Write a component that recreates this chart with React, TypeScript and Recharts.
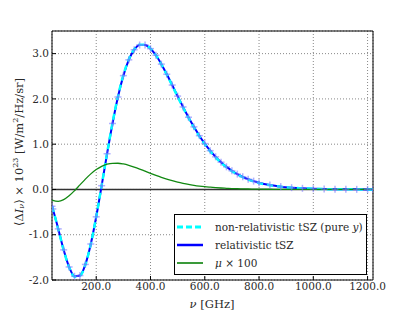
import React from "react";
import {
  ComposedChart,
  Line,
  Scatter,
  XAxis,
  YAxis,
  CartesianGrid,
  ReferenceLine,
  ReferenceArea,
  Legend,
} from "recharts";

// frequencies in GHz
const nu = [
  37, 40, 60, 80, 100, 120, 140, 160, 180, 200, 220, 240, 260, 280, 300, 320,
  340, 360, 380, 400, 420, 440, 460, 480, 500, 520, 540, 560, 580, 600, 620,
  640, 660, 680, 700, 720, 740, 760, 780, 800, 840, 880, 920, 960, 1000, 1040,
  1080, 1120, 1160, 1200, 1220,
];

// non-relativistic tSZ (pure y)
const nonRel = [
  -0.374, -0.432, -0.875, -1.34, -1.719, -1.926, -1.909, -1.661, -1.206,
  -0.601, 0.09, 0.799, 1.469, 2.055, 2.527, 2.875, 3.095, 3.198, 3.197, 3.112,
  2.963, 2.764, 2.538, 2.296, 2.05, 1.809, 1.58, 1.367, 1.172, 0.997, 0.842,
  0.707, 0.589, 0.488, 0.403, 0.33, 0.27, 0.219, 0.177, 0.143, 0.092, 0.058,
  0.037, 0.023, 0.014, 0.008, 0.005, 0.003, 0.002, 0.001, 0.001,
];

// relativistic tSZ
const rel = [
  -0.372, -0.43, -0.871, -1.334, -1.712, -1.918, -1.902, -1.656, -1.205,
  -0.604, 0.083, 0.789, 1.457, 2.042, 2.514, 2.863, 3.085, 3.19, 3.192, 3.11,
  2.964, 2.768, 2.545, 2.306, 2.062, 1.823, 1.595, 1.383, 1.188, 1.013, 0.857,
  0.721, 0.602, 0.5, 0.414, 0.34, 0.279, 0.227, 0.184, 0.149, 0.097, 0.062,
  0.04, 0.025, 0.016, 0.01, 0.006, 0.004, 0.002, 0.001, 0.001,
];

// mu distortion x 100
const mu = [
  -0.233, -0.242, -0.263, -0.225, -0.141, -0.027, 0.101, 0.228, 0.344, 0.439,
  0.511, 0.557, 0.578, 0.579, 0.563, 0.534, 0.495, 0.451, 0.404, 0.357, 0.312,
  0.269, 0.229, 0.194, 0.163, 0.136, 0.112, 0.092, 0.075, 0.061, 0.05, 0.04,
  0.032, 0.026, 0.02, 0.016, 0.013, 0.01, 0.008, 0.006, 0.004, 0.002, 0.001,
  0.001, 0, 0, 0, 0, 0, 0, 0,
];

const xTicks = [200, 400, 600, 800, 1000, 1200];
const yTicks = [-2, -1, 0, 1, 2, 3];

const data = nu.map((v, i) => ({
  nu: v,
  nonRel: nonRel[i],
  rel: rel[i],
  mu: mu[i],
}));

const FONT = "DejaVu Serif, Liberation Serif, serif";
const TXT = "#2a2a2a";

function PlusMark(props: any) {
  const { cx, cy } = props;
  if (cx == null || cy == null) return null;
  return (
    <g stroke="#7070ff" strokeOpacity={0.55} strokeWidth={1.5}>
      <line x1={cx - 3.5} y1={cy} x2={cx + 3.5} y2={cy} />
      <line x1={cx} y1={cy - 3.5} x2={cx} y2={cy + 3.5} />
    </g>
  );
}

function LegendBox() {
  const rows = [
    { label: "non-relativistic tSZ (pure ", italic: "y", tail: ")", color: "#00ffff", dash: "6 3", w: 3 },
    { label: "relativistic tSZ", color: "#0000ff", w: 2.5 },
    { label: "", mu: true, color: "#3a9a3a", w: 2 },
  ];
  return (
    <div
      style={{
        width: 193,
        height: 61,
        border: "1px solid #000",
        background: "#fff",
        boxSizing: "border-box",
        fontFamily: FONT,
        fontSize: 10.5,
        color: TXT,
        paddingTop: 3,
      }}
    >
      {rows.map((r, i) => (
        <div key={i} style={{ display: "flex", alignItems: "center", height: 18 }}>
          <svg width={40} height={10} style={{ flex: "none" }}>
            <line
              x1={2}
              y1={5}
              x2={28}
              y2={5}
              stroke={r.color}
              strokeWidth={r.w}
              strokeDasharray={r.dash}
            />
          </svg>
          <span style={{ whiteSpace: "nowrap" }}>
            {r.mu ? (
              <>
                <i>μ</i> × 100
              </>
            ) : (
              <>
                {r.label}
                {r.italic && <i>{r.italic}</i>}
                {r.tail}
              </>
            )}
          </span>
        </div>
      ))}
    </div>
  );
}

function YLabel() {
  return (
    <text
      x={19}
      y={152}
      transform="rotate(-90, 19, 152)"
      textAnchor="middle"
      dominantBaseline="central"
      fontFamily={FONT}
      fontSize={11.5}
      fill={TXT}
    >
      ⟨Δ<tspan fontStyle="italic">I</tspan>
      <tspan fontStyle="italic" fontSize={8} baselineShift="-25%">ν</tspan>
      <tspan>⟩ × 10</tspan>
      <tspan fontSize={8} baselineShift="45%">23</tspan>
      <tspan> [W/m</tspan>
      <tspan fontSize={8} baselineShift="45%">2</tspan>
      <tspan>/Hz/sr]</tspan>
    </text>
  );
}

function XLabel() {
  return (
    <text x={212} y={308} textAnchor="middle" fontFamily={FONT} fontSize={11.5} fill={TXT}>
      <tspan fontStyle="italic">ν</tspan> [GHz]
    </text>
  );
}

export default function App() {
  return (
    <div style={{ position: "absolute", left: 0, top: 0, background: "#fff" }}>
      <ComposedChart
        width={415}
        height={312}
        data={data}
        margin={{ top: 31, right: 42, bottom: 0, left: 0 }}
      >
        <CartesianGrid strokeDasharray="1 2" stroke="#888" />
        <XAxis
          dataKey="nu"
          type="number"
          domain={[37, 1220]}
          ticks={xTicks}
          allowDataOverflow
          height={32}
          axisLine={false}
          tickLine={{ stroke: "#000" }}
          tickSize={-4}
          tickMargin={7}
          tickFormatter={(v: number) => v.toFixed(1)}
          tick={{ fontFamily: FONT, fontSize: 10.5, fill: TXT }}
          label={{ content: () => <XLabel /> }}
        />
        <XAxis
          xAxisId="top"
          orientation="top"
          dataKey="nu"
          type="number"
          domain={[37, 1220]}
          ticks={xTicks}
          allowDataOverflow
          height={0}
          axisLine={false}
          tickLine={{ stroke: "#000" }}
          tickSize={-4}
          tick={false}
        />
        <YAxis
          type="number"
          domain={[-2, 3.5]}
          ticks={yTicks}
          allowDataOverflow
          width={52}
          axisLine={false}
          tickLine={{ stroke: "#000" }}
          tickSize={-4}
          tickMargin={7}
          tickFormatter={(v: number) => v.toFixed(1)}
          tick={{ fontFamily: FONT, fontSize: 10.5, fill: TXT }}
          label={{ content: () => <YLabel /> }}
        />
        <YAxis
          yAxisId="right"
          orientation="right"
          type="number"
          domain={[-2, 3.5]}
          ticks={yTicks}
          allowDataOverflow
          width={0}
          axisLine={false}
          tickLine={{ stroke: "#000" }}
          tickSize={-4}
          tick={false}
        />
        <ReferenceLine y={0} stroke="#333" strokeWidth={1.5} />
        <Scatter
          dataKey="rel"
          shape={<PlusMark />}
          isAnimationActive={false}
          legendType="none"
        />
        <Line
          type="monotone"
          dataKey="rel"
          stroke="#0000ff"
          strokeWidth={2}
          dot={false}
          isAnimationActive={false}
        />
        <Line
          type="monotone"
          dataKey="nonRel"
          stroke="#00ffff"
          strokeWidth={2.5}
          strokeDasharray="6 4"
          dot={false}
          isAnimationActive={false}
        />
        <Line
          type="monotone"
          dataKey="mu"
          stroke="#118811"
          strokeWidth={1.3}
          dot={false}
          isAnimationActive={false}
        />
        <ReferenceArea
          x1={37}
          x2={1220}
          y1={-2}
          y2={3.5}
          fill="none"
          stroke="#000"
          strokeWidth={1}
          ifOverflow="visible"
        />
        <Legend
          layout="vertical"
          align="center"
          verticalAlign="middle"
          content={() => <LegendBox />}
          wrapperStyle={{ left: 174, top: 214, width: 193, height: 61 }}
        />
      </ComposedChart>
    </div>
  );
}
